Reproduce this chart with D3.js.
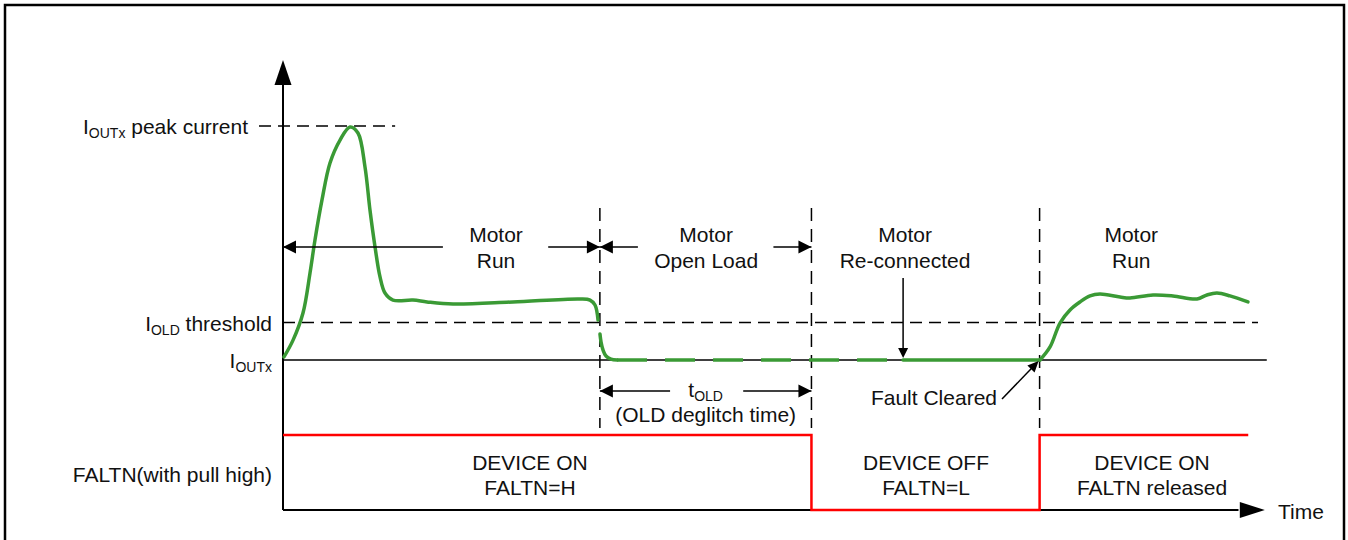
<!DOCTYPE html>
<html>
<head>
<meta charset="utf-8">
<script src="https://cdn.jsdelivr.net/npm/d3@7"></script>
<style>
  html, body { margin: 0; padding: 0; background: #fff; }
  svg { display: block; font-family: 'Liberation Sans', Arial, sans-serif; }
  text { fill: #111; font-size: 21px; }
</style>
</head>
<body>
<script>
// Time in arbitrary units (0..100), current in arbitrary units (0..10)
const tOpenLoad = 32.5;
const tFault = 54.2;
const tReconnect = 63.6;
const tCleared = 77.6;
const tEnd = 99;

const iPeak = 10;
const iThreshold = 1.6;

// Motor current
const currentRun = [
  [0.1, 0.13], [1.03, 0.85], [2.05, 2.01], [2.77, 3.72], [3.28, 5.13],
  [4.0, 6.84], [4.82, 8.42], [5.85, 9.4], [6.87, 9.96], [7.69, 9.7],
  [8.41, 8.25], [8.92, 6.41], [9.44, 4.83], [9.95, 3.55], [10.46, 2.86],
  [11.28, 2.56], [13.33, 2.56], [14.77, 2.48], [17.44, 2.39], [23.59, 2.48],
  [30.46, 2.61], [31.49, 2.56], [32.0, 2.35], [32.31, 1.71]
];
const currentDrop = [
  [32.51, 1.11], [32.62, 0.77], [32.82, 0.43], [33.13, 0.17], [33.64, 0.04], [34.26, 0]
];
const currentOpen = [[34.26, 0], [63.59, 0]];
const currentHold = [[63.59, 0], [77.64, 0]];
const currentRestart = [
  [77.64, 0], [78.67, 0.56], [79.69, 1.58], [80.72, 2.14],
  [81.74, 2.48], [82.77, 2.74], [83.79, 2.82], [85.85, 2.69], [86.87, 2.65],
  [89.23, 2.78], [91.28, 2.74], [93.74, 2.61], [94.77, 2.78], [95.79, 2.86],
  [97.13, 2.74], [98.97, 2.48]
];

// FALTN pin level (1 = high, 0 = low)
const faltnLevels = [
  [0, 1], [tFault, 1], [tFault, 0], [tCleared, 0], [tCleared, 1], [tEnd, 1]
];

const phaseLabels = [
  { t: 21.85, lines: ['Motor', 'Run'] },
  { t: 43.4, lines: ['Motor', 'Open Load'] },
  { t: 63.8, lines: ['Motor', 'Re-connected'] },
  { t: 87.0, lines: ['Motor', 'Run'] }
];
const deviceLabels = [
  { t: 25.33, lines: ['DEVICE ON', 'FALTN=H'] },
  { t: 65.95, lines: ['DEVICE OFF', 'FALTN=L'] },
  { t: 89.13, lines: ['DEVICE ON', 'FALTN released'] }
];
const eventTimes = [tOpenLoad, tFault, tCleared];

const w = 1348;
const h = 540;
const green = '#3a9a35';

const xScale = d3.scaleLinear().domain([0, 100]).range([283, 1258]);
const yScale = d3.scaleLinear().domain([0, 10]).range([360, 126]);
const fScale = d3.scaleLinear().domain([0, 1]).range([510, 435]);

const x0 = xScale(0);

const svg = d3.select('body').append('svg')
  .attr('width', w)
  .attr('height', h);

svg.append('rect')
  .attr('x', 5).attr('y', 5)
  .attr('width', 1339).attr('height', 600)
  .attr('fill', '#fff')
  .attr('stroke', '#000')
  .attr('stroke-width', 2.5);

// triangle with its tip at (x, y), pointing along angle (radians)
function head(x, y, angle, len, half) {
  const c = Math.cos(angle), s = Math.sin(angle);
  const bx = x - c * len, by = y - s * len;
  return `M${x},${y}L${bx - s * half},${by + c * half}L${bx + s * half},${by - c * half}Z`;
}

function label(x, y, parts, anchor) {
  const t = svg.append('text')
    .attr('x', x).attr('y', y)
    .attr('text-anchor', anchor || 'start');
  let shifted = false;
  parts.forEach(p => {
    const sub = p.startsWith('_');
    const span = t.append('tspan').text(sub ? p.slice(1) : p);
    if (sub && !shifted) { span.attr('dy', 4).attr('font-size', 14); shifted = true; }
    else if (sub) span.attr('font-size', 14);
    else if (shifted) { span.attr('dy', -4); shifted = false; }
  });
  return t;
}

// reference levels
svg.append('line')
  .attr('x1', xScale(-2.46)).attr('x2', xScale(11.5))
  .attr('y1', yScale(iPeak)).attr('y2', yScale(iPeak))
  .attr('stroke', '#000').attr('stroke-width', 1.5)
  .attr('stroke-dasharray', '12,7');

svg.append('line')
  .attr('x1', x0).attr('x2', xScale(100))
  .attr('y1', yScale(iThreshold)).attr('y2', yScale(iThreshold))
  .attr('stroke', '#000').attr('stroke-width', 1.5)
  .attr('stroke-dasharray', '12,7');

svg.append('line')
  .attr('x1', x0).attr('x2', xScale(100.9))
  .attr('y1', yScale(0)).attr('y2', yScale(0))
  .attr('stroke', '#000').attr('stroke-width', 1.3);

// event markers
svg.selectAll('.event')
  .data(eventTimes)
  .enter()
  .append('line')
  .attr('class', 'event')
  .attr('x1', d => xScale(d)).attr('x2', d => xScale(d))
  .attr('y1', 208).attr('y2', 428)
  .attr('stroke', '#000').attr('stroke-width', 1.5)
  .attr('stroke-dasharray', '13,8');

// axes
svg.append('line')
  .attr('x1', x0).attr('x2', x0)
  .attr('y1', fScale(0)).attr('y2', 84)
  .attr('stroke', '#000').attr('stroke-width', 2);
svg.append('path').attr('d', head(x0, 60, -Math.PI / 2, 25, 8.5));

svg.append('line')
  .attr('x1', x0).attr('x2', xScale(98))
  .attr('y1', fScale(0)).attr('y2', fScale(0))
  .attr('stroke', '#000').attr('stroke-width', 2);
svg.append('path').attr('d', head(xScale(100.7), fScale(0), 0, 25, 8));

label(1278, 519, ['Time']);

// FALTN trace
svg.append('path')
  .datum(faltnLevels)
  .attr('fill', 'none')
  .attr('stroke', '#ff0000')
  .attr('stroke-width', 2.5)
  .attr('d', d3.line().x(d => xScale(d[0])).y(d => fScale(d[1])));

// current trace
const line = d3.line()
  .x(d => xScale(d[0]))
  .y(d => yScale(d[1]))
  .curve(d3.curveCatmullRom.alpha(0.5));

[currentRun, currentDrop, currentHold, currentRestart].forEach(seg => {
  svg.append('path')
    .datum(seg)
    .attr('fill', 'none')
    .attr('stroke', green)
    .attr('stroke-width', 3.5)
    .attr('stroke-linecap', 'round')
    .attr('d', line);
});
svg.append('path')
  .datum(currentOpen)
  .attr('fill', 'none')
  .attr('stroke', green)
  .attr('stroke-width', 3.5)
  .attr('stroke-dasharray', '30,18')
  .attr('d', line);

// phase arrows with a gap for the text
function spanArrow(from, to, gapFrom, gapTo, y) {
  [[from, gapFrom], [gapTo, to]].forEach(s => {
    svg.append('line')
      .attr('x1', xScale(s[0])).attr('x2', xScale(s[1]))
      .attr('y1', y).attr('y2', y)
      .attr('stroke', '#000').attr('stroke-width', 1.5);
  });
  svg.append('path').attr('d', head(xScale(from), y, Math.PI, 13, 6.5));
  svg.append('path').attr('d', head(xScale(to), y, 0, 13, 6.5));
}
spanArrow(0, tOpenLoad, 16.4, 27.2, 247);
spanArrow(tOpenLoad, tFault, 36.4, 50.3, 247);
spanArrow(tOpenLoad, tFault, 39.7, 47.2, 391);

phaseLabels.forEach(p => {
  p.lines.forEach((s, i) => label(xScale(p.t), 242 + i * 26, [s], 'middle'));
});
deviceLabels.forEach(p => {
  p.lines.forEach((s, i) => label(xScale(p.t), 470 + i * 25, [s], 'middle'));
});

label(xScale((tOpenLoad + tFault) / 2), 397, ['t', '_OLD'], 'middle');
label(xScale((tOpenLoad + tFault) / 2), 422, ['(OLD deglitch time)'], 'middle');

// re-connect arrow
svg.append('line')
  .attr('x1', xScale(tReconnect)).attr('x2', xScale(tReconnect))
  .attr('y1', 278).attr('y2', yScale(0) - 10)
  .attr('stroke', '#000').attr('stroke-width', 1.5);
svg.append('path').attr('d', head(xScale(tReconnect), yScale(0) - 2, Math.PI / 2, 10, 5));

// fault cleared arrow
const fx = xScale(tCleared) - 1, fy = yScale(0) + 1;
const ang = Math.atan2(fy - 399, fx - 1002);
svg.append('line')
  .attr('x1', 1002).attr('y1', 399)
  .attr('x2', fx - Math.cos(ang) * 8).attr('y2', fy - Math.sin(ang) * 8)
  .attr('stroke', '#000').attr('stroke-width', 1.5);
svg.append('path').attr('d', head(fx, fy, ang, 11, 5));
label(997, 405, ['Fault Cleared'], 'end');

// left labels
label(x0 - 35, yScale(iPeak) + 8, ['I', '_OUTx', ' peak current'], 'end');
label(x0 - 11, yScale(iThreshold) + 8, ['I', '_OLD', ' threshold'], 'end');
label(x0 - 11, yScale(0) + 8, ['I', '_OUTx'], 'end');
label(x0 - 11, fScale(0.5) + 9.5, ['FALTN(with pull high)'], 'end');
</script>
</body>
</html>
